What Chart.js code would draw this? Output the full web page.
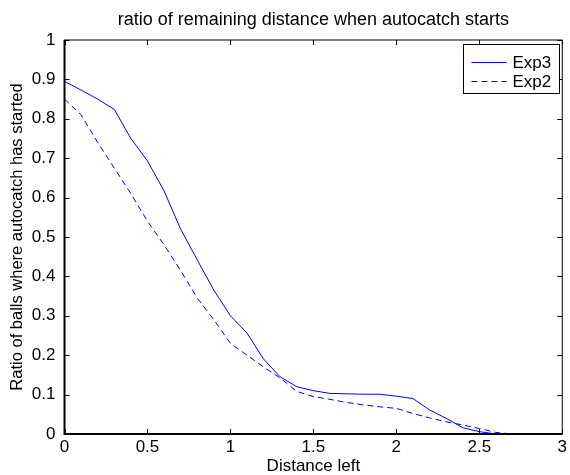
<!DOCTYPE html>
<html>
<head>
<meta charset="utf-8">
<script src="https://cdn.jsdelivr.net/npm/chart.js@4.4.0/dist/chart.umd.min.js"></script>
<style>
  html, body { margin: 0; padding: 0; background: #fff; }
  #wrap { width: 570px; height: 475px; }
</style>
</head>
<body>
<div id="wrap"><canvas id="grafico" width="570" height="475"></canvas></div>
<script>
// distance left (x) shared by both series
const distancia = [0, 0.1, 0.2, 0.3, 0.4, 0.5, 0.6, 0.7, 0.8, 0.9, 1.0, 1.1, 1.2, 1.3, 1.4, 1.5,
  1.6, 1.7, 1.8, 1.9, 2.0, 2.1, 2.2, 2.3, 2.4, 2.5, 2.6, 2.7, 2.8, 2.9, 3.0];
const exp3 = [0.895, 0.873, 0.85, 0.824, 0.75, 0.693, 0.617, 0.52, 0.442, 0.365, 0.30, 0.256, 0.19, 0.145, 0.12, 0.11,
  0.103, 0.102, 0.101, 0.101, 0.096, 0.09, 0.061, 0.04, 0.016, 0.006, 0, 0, 0, 0, 0];
const exp2 = [0.85, 0.81, 0.74, 0.675, 0.61, 0.54, 0.48, 0.415, 0.345, 0.29, 0.23, 0.20, 0.17, 0.142, 0.108, 0.095,
  0.088, 0.08, 0.074, 0.069, 0.065, 0.052, 0.041, 0.031, 0.023, 0.014, 0.004, 0, 0, 0, 0];
const seriesNomes = ['Exp3', 'Exp2'];
const xTicks = [0, 0.5, 1, 1.5, 2, 2.5, 3];
const yTicks = [0, 0.1, 0.2, 0.3, 0.4, 0.5, 0.6, 0.7, 0.8, 0.9, 1];
const titulo = 'ratio of remaining distance when autocatch starts';

const fonte = '"Liberation Sans", Arial, sans-serif';
const azul = '#0000ff';

function pontos(valores) {
  return distancia.map((d, i) => ({ x: d, y: valores[i] }));
}

// frame, inward ticks on all four sides, title over the axes and the boxed legend (matlab look)
const molduraMatlab = {
  id: 'molduraMatlab',
  afterDraw(chart) {
    const { ctx, chartArea: a, scales } = chart;
    ctx.save();
    ctx.strokeStyle = '#000';
    ctx.lineWidth = 1;
    ctx.strokeRect(a.left, a.top, a.right - a.left, a.bottom - a.top);
    ctx.beginPath();
    xTicks.forEach(v => {
      const px = Math.round(scales.x.getPixelForValue(v)) + 0.5;
      ctx.moveTo(px, a.bottom); ctx.lineTo(px, a.bottom - 5);
      ctx.moveTo(px, a.top); ctx.lineTo(px, a.top + 5);
    });
    yTicks.forEach(v => {
      const py = Math.round(scales.y.getPixelForValue(v)) + 0.5;
      ctx.moveTo(a.left, py); ctx.lineTo(a.left + 5, py);
      ctx.moveTo(a.right, py); ctx.lineTo(a.right - 5, py);
    });
    ctx.stroke();
    // thicker left/bottom axis like the reference
    ctx.lineWidth = 2;
    ctx.beginPath();
    ctx.moveTo(a.left, a.top); ctx.lineTo(a.left, a.bottom); ctx.lineTo(a.right, a.bottom);
    ctx.stroke();

    // title centred over the plot area
    ctx.fillStyle = '#000';
    ctx.font = '18px ' + fonte;
    ctx.textAlign = 'center';
    ctx.textBaseline = 'middle';
    ctx.fillText(titulo, (a.left + a.right) / 2, 20);

    // legend box
    const lx = 463.5, ly = 44.5, lw = 96, lh = 49;
    ctx.fillStyle = '#fff';
    ctx.fillRect(lx, ly, lw, lh);
    ctx.lineWidth = 1;
    ctx.strokeStyle = '#000';
    ctx.strokeRect(lx, ly, lw, lh);
    ctx.font = '17px ' + fonte;
    ctx.textAlign = 'left';
    chart.data.datasets.forEach((ds, i) => {
      const yy = ly + 18 + i * 19;
      ctx.strokeStyle = ds.borderColor;
      ctx.setLineDash(ds.borderDash || []);
      ctx.beginPath();
      ctx.moveTo(lx + 8, yy); ctx.lineTo(lx + 43, yy);
      ctx.stroke();
      ctx.setLineDash([]);
      ctx.fillStyle = '#000';
      ctx.fillText(ds.label, lx + 49, yy + 1);
    });
    ctx.restore();
  }
};

new Chart(document.getElementById('grafico'), {
  type: 'line',
  data: {
    datasets: [
      { label: seriesNomes[0], data: pontos(exp3), borderColor: azul, borderWidth: 1, pointRadius: 0, tension: 0, fill: false },
      { label: seriesNomes[1], data: pontos(exp2), borderColor: azul, borderWidth: 1, borderDash: [6, 4], pointRadius: 0, tension: 0, fill: false }
    ]
  },
  options: {
    responsive: false,
    animation: false,
    layout: { padding: { left: 0, right: 5.5, top: 40, bottom: 0 } },
    plugins: {
      legend: { display: false },
      tooltip: { enabled: false },
      title: { display: false }
    },
    scales: {
      x: {
        type: 'linear',
        min: 0, max: 3,
        afterBuildTicks: s => { s.ticks = xTicks.map(v => ({ value: v })); },
        afterFit: s => { s.height = 41; },
        grid: { display: false, drawTicks: false },
        border: { display: false },
        ticks: { color: '#000', font: { family: fonte, size: 17 }, padding: 3, maxRotation: 0,
          callback: v => String(v) },
        title: { display: true, text: 'Distance left', color: '#000', font: { family: fonte, size: 17 }, padding: { top: 0, bottom: -2 } }
      },
      y: {
        min: 0, max: 1,
        afterBuildTicks: s => { s.ticks = yTicks.map(v => ({ value: v })); },
        afterFit: s => { s.width = 64.5; },
        grid: { display: false, drawTicks: false },
        border: { display: false },
        ticks: { color: '#000', font: { family: fonte, size: 17 }, padding: 9,
          callback: v => String(v) },
        title: { display: true, text: 'Ratio of balls where autocatch has started', color: '#000', font: { family: fonte, size: 16.5 }, padding: { top: 8, bottom: 0 } }
      }
    }
  },
  plugins: [molduraMatlab]
});
</script>
</body>
</html>
